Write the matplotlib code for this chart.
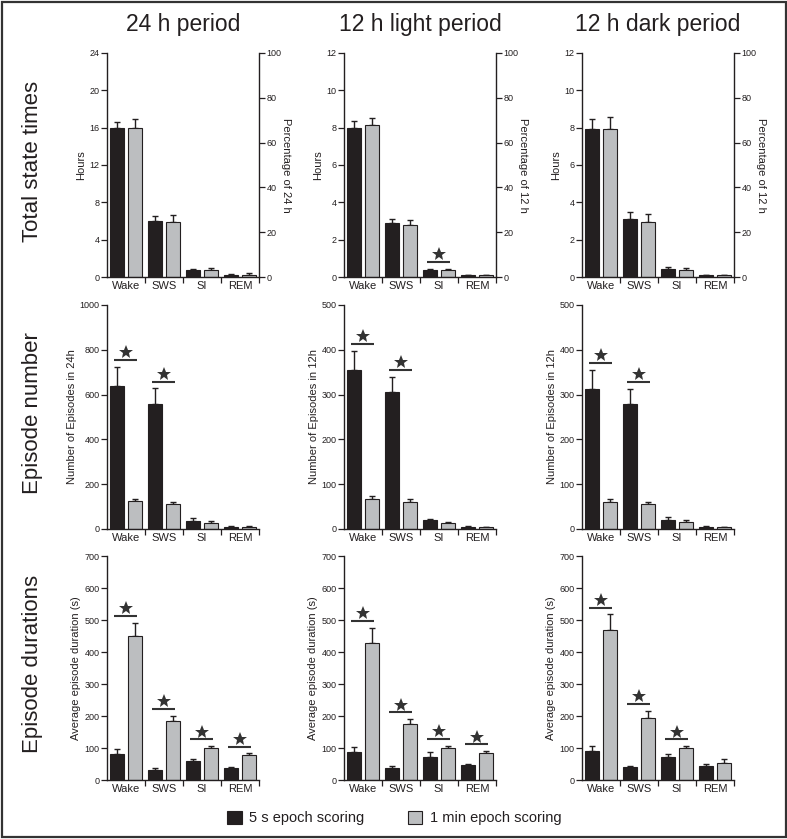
import matplotlib
matplotlib.use("Agg")
import matplotlib.pyplot as plt
from matplotlib.patches import Patch, Rectangle
import numpy as np

plt.rcParams['font.family'] = ['Liberation Sans', 'DejaVu Sans']

states = ["Wake", "SWS", "SI", "REM"]
col_titles = ["24 h period", "12 h light period", "12 h dark period"]
row_titles = ["Total state times", "Episode number", "Episode durations"]
legend_labels = ["5 s epoch scoring", "1 min epoch scoring"]

# ---- Row 1: total state times (hours) ----
tot24_5s = [15.93, 6.0, 0.71, 0.21]
tot24_5s_err = [0.71, 0.54, 0.18, 0.11]
tot24_1m = [16.0, 5.93, 0.75, 0.25]
tot24_1m_err = [0.93, 0.75, 0.18, 0.14]

totL_5s = [8.0, 2.89, 0.36, 0.09]
totL_5s_err = [0.34, 0.24, 0.09, 0.03]
totL_1m = [8.13, 2.8, 0.375, 0.09]
totL_1m_err = [0.41, 0.27, 0.055, 0.03]

totD_5s = [7.95, 3.09, 0.41, 0.1]
totD_5s_err = [0.5, 0.37, 0.14, 0.03]
totD_1m = [7.95, 2.95, 0.39, 0.1]
totD_1m_err = [0.6, 0.43, 0.09, 0.03]

# ---- Row 2: episode number ----
epi24_5s = [637, 558, 36, 9]
epi24_5s_err = [87, 70, 12, 6]
epi24_1m = [127, 113, 25, 7]
epi24_1m_err = [9, 9, 9, 8]

epiL_5s = [354, 306, 20, 5]
epiL_5s_err = [44, 34, 2, 1]
epiL_1m = [67, 61, 13, 4]
epiL_1m_err = [6, 5, 2, 1]

epiD_5s = [313, 278, 19, 5]
epiD_5s_err = [42, 35, 7, 2]
epiD_1m = [61, 56, 16, 4]
epiD_1m_err = [5, 4, 3, 1]

# ---- Row 3: average episode duration (s) ----
dur24_5s = [81, 30, 59, 36]
dur24_5s_err = [16, 7, 8, 4]
dur24_1m = [450, 185, 101, 78]
dur24_1m_err = [42, 16, 5, 5]

durL_5s = [87, 38, 72, 47]
durL_5s_err = [17, 5, 15, 3]
durL_1m = [428, 176, 99, 84]
durL_1m_err = [48, 14, 8, 6]

durD_5s = [92, 40, 71, 44]
durD_5s_err = [14, 5, 11, 5]
durD_1m = [468, 193, 99, 54]
durD_1m_err = [50, 24, 7, 11]

# significant differences (category indices)
sig_tot24, sig_totL, sig_totD = [], [2], []
sig_epi24, sig_epiL, sig_epiD = [0, 1], [0, 1], [0, 1]
sig_dur24, sig_durL, sig_durD = [0, 1, 2, 3], [0, 1, 2, 3], [0, 1, 2]

panels = [
    [(tot24_5s, tot24_5s_err, tot24_1m, tot24_1m_err, sig_tot24),
     (totL_5s, totL_5s_err, totL_1m, totL_1m_err, sig_totL),
     (totD_5s, totD_5s_err, totD_1m, totD_1m_err, sig_totD)],
    [(epi24_5s, epi24_5s_err, epi24_1m, epi24_1m_err, sig_epi24),
     (epiL_5s, epiL_5s_err, epiL_1m, epiL_1m_err, sig_epiL),
     (epiD_5s, epiD_5s_err, epiD_1m, epiD_1m_err, sig_epiD)],
    [(dur24_5s, dur24_5s_err, dur24_1m, dur24_1m_err, sig_dur24),
     (durL_5s, durL_5s_err, durL_1m, durL_1m_err, sig_durL),
     (durD_5s, durD_5s_err, durD_1m, durD_1m_err, sig_durD)],
]

ylims = [[24, 12, 12], [1000, 500, 500], [700, 700, 700]]
ysteps = [[4, 2, 2], [200, 100, 100], [100, 100, 100]]
ylabels = [["Hours"] * 3,
           ["Number of Episodes in 24h", "Number of Episodes in 12h", "Number of Episodes in 12h"],
           ["Average episode duration (s)"] * 3]
right_labels = ["Percentage of 24 h", "Percentage of 12 h", "Percentage of 12 h"]

TXT = "#231f20"
DARK = "#231f20"
GRAY = "#bcbec0"

W, H = 787, 839
fig = plt.figure(figsize=(W / 100, H / 100), dpi=100)

col_left = [107, 344, 582]
row_top = [53, 305, 556]
ax_w, ax_h = 152, 224

x = np.arange(len(states))
bw = 0.36
off = 0.24

for r in range(3):
    for c in range(3):
        v5, e5, v1, e1, sig = panels[r][c]
        ax = fig.add_axes([col_left[c] / W, 1 - (row_top[r] + ax_h) / H, ax_w / W, ax_h / H])
        ax.bar(x - off, v5, bw, color=DARK, edgecolor=DARK, linewidth=0.8, zorder=2)
        ax.bar(x + off, v1, bw, color=GRAY, edgecolor=DARK, linewidth=0.8, zorder=2)
        ax.errorbar(x - off, v5, yerr=[np.zeros(4), e5], fmt='none', ecolor=DARK,
                    elinewidth=1.0, capsize=2.3, capthick=1.0, zorder=1)
        ax.errorbar(x + off, v1, yerr=[np.zeros(4), e1], fmt='none', ecolor=DARK,
                    elinewidth=1.0, capsize=2.3, capthick=1.0, zorder=1)
        ymax = ylims[r][c]
        for i in sig:
            top = max(v5[i] + e5[i], v1[i] + e1[i])
            ly = top + 0.03 * ymax
            ax.plot([i - 0.31, i + 0.29], [ly, ly], color="#333333", lw=1.5,
                    solid_capstyle='butt', clip_on=False)
            ax.plot([i - 0.01], [ly + 0.035 * ymax], marker='*', color="#333333",
                    markersize=10.5, markeredgewidth=0, clip_on=False)
        ax.set_xlim(-0.5, 3.5)
        ax.set_ylim(0, ymax)
        ax.set_yticks(np.arange(0, ymax + 0.001, ysteps[r][c]))
        ax.set_xticks(x)
        ax.set_xticklabels(states, fontsize=8, color=TXT)
        ax.set_xticks([0.5, 1.5, 2.5, 3.5], minor=True)
        ax.tick_params(axis='x', which='major', length=0, pad=3)
        ax.tick_params(axis='x', which='minor', length=4, width=0.9, direction='out', color=DARK)
        ax.tick_params(axis='y', labelsize=6.5, length=4, width=0.9, color=DARK,
                       labelcolor=TXT, pad=1.5)
        ax.spines['top'].set_visible(False)
        ax.spines['right'].set_visible(False)
        for s in ['left', 'bottom']:
            ax.spines[s].set_linewidth(1.0)
            ax.spines[s].set_color(DARK)
        ax.set_ylabel(ylabels[r][c], fontsize=8, color=TXT, labelpad=2)
        if r == 0:
            ax2 = ax.twinx()
            ax2.set_ylim(0, 100)
            ax2.set_yticks(np.arange(0, 101, 20))
            ax2.tick_params(axis='y', labelsize=6.5, length=4, width=0.9, color=DARK,
                            labelcolor=TXT, pad=1.5)
            for s in ['top', 'left', 'bottom']:
                ax2.spines[s].set_visible(False)
            ax2.spines['right'].set_linewidth(1.0)
            ax2.spines['right'].set_color(DARK)
            ax2.set_ylabel(right_labels[c], fontsize=8, color=TXT, rotation=270,
                           labelpad=7)

# column titles
for c in range(3):
    fig.text((col_left[c] + ax_w / 2) / W, 1 - 24 / H, col_titles[c], fontsize=16.5,
             color=TXT, ha='center', va='center')

# row titles
for r in range(3):
    fig.text(33 / W, 1 - (row_top[r] + ax_h / 2 - 4) / H, row_titles[r], fontsize=16,
             color=TXT, ha='center', va='center', rotation=90)

# legend
handles = [Patch(facecolor=DARK, edgecolor=DARK, linewidth=0.8),
           Patch(facecolor=GRAY, edgecolor=DARK, linewidth=0.8)]
fig.legend(handles, legend_labels, loc='center left', bbox_to_anchor=(227 / W, 1 - 818 / H),
           ncol=2, frameon=False, fontsize=10.5, handlelength=1.0, handleheight=1.0,
           handletextpad=0.5, columnspacing=3.0, borderpad=0, borderaxespad=0,
           labelcolor=TXT)

# figure frame
fig.patches.append(Rectangle((1.5 / W, 2 / H), (W - 3) / W, (H - 3.5) / H,
                             transform=fig.transFigure, fill=False,
                             edgecolor="#333333", linewidth=1.6))

fig.savefig("out.png", dpi=100)
